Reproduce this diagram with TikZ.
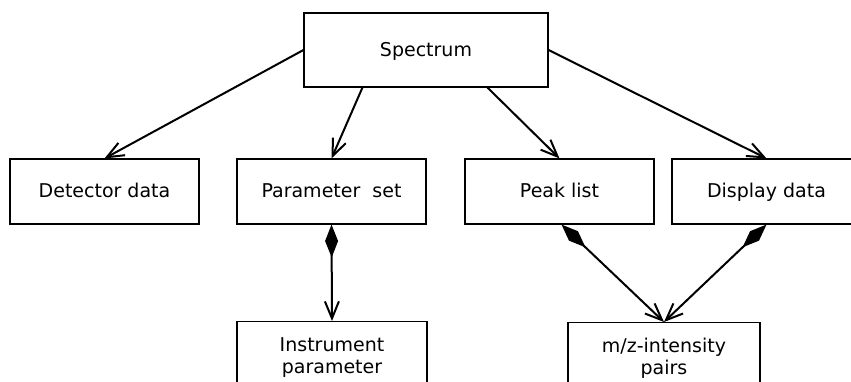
\documentclass[tikz,border=0pt]{standalone}
\usepackage{fontspec}
\setmainfont{DejaVu Sans}
\usetikzlibrary{arrows.meta,calc}
\tikzset{
  box/.style={draw, line width=1.1pt, inner sep=0pt, minimum width=189pt, minimum height=65pt,
    text height=14pt, text depth=2pt, font=\fontsize{19}{23}\selectfont},
  tallbox/.style={draw, line width=1.1pt, inner xsep=0pt, inner ysep=16pt, align=center,
    font=\fontsize{19}{22}\selectfont, anchor=north},
  assoc/.style={line width=2pt, -{Straight Barb[length=17pt,width=14pt,line width=2pt]}},
  compose/.style={line width=2pt,
    {Diamond[length=33pt,width=13pt]}-{Straight Barb[length=17pt,width=14pt,line width=2pt]}}
}
\begin{document}
\begin{tikzpicture}[x=1pt,y=-1pt]
  \useasboundingbox (0,0) rectangle (851,381);
  \clip (0,0) rectangle (851,381);
  \fill[white] (0,0) rectangle (851,381);

  % top element
  \node[box, minimum width=244pt, minimum height=74pt] (spec) at (426,50) {Spectrum};

  % middle row
  \node[box] (det)  at (104.5,191.5) {Detector data};
  \node[box] (par)  at (331.5,191.5) {Parameter\ \ set};
  \node[box] (peak) at (559.5,191.5) {Peak list};
  \node[box] (disp) at (766.5,191.5) {Display data};

  % bottom row
  \node[tallbox, minimum width=190pt] (inst) at (332,321) {Instrument\\parameter};
  \node[tallbox, minimum width=192pt] (mz) at (664,322) {m/z-intensity\\pairs};

  % associations from the spectrum
  \draw[assoc] (spec.west) -- (det.north);
  \draw[assoc] ($(spec.south west)+(59,0)$) -- (par.north);
  \draw[assoc] ($(spec.south west)+(184,0)$) -- (peak.north);
  \draw[assoc] (spec.east) -- (disp.north);

  % compositions
  \draw[compose] (par.south) -- (inst.north);
  \draw[compose] ($(peak.south)+(2,0)$) -- (mz.north);
  \draw[compose] (disp.south) -- (mz.north);
\end{tikzpicture}
\end{document}
